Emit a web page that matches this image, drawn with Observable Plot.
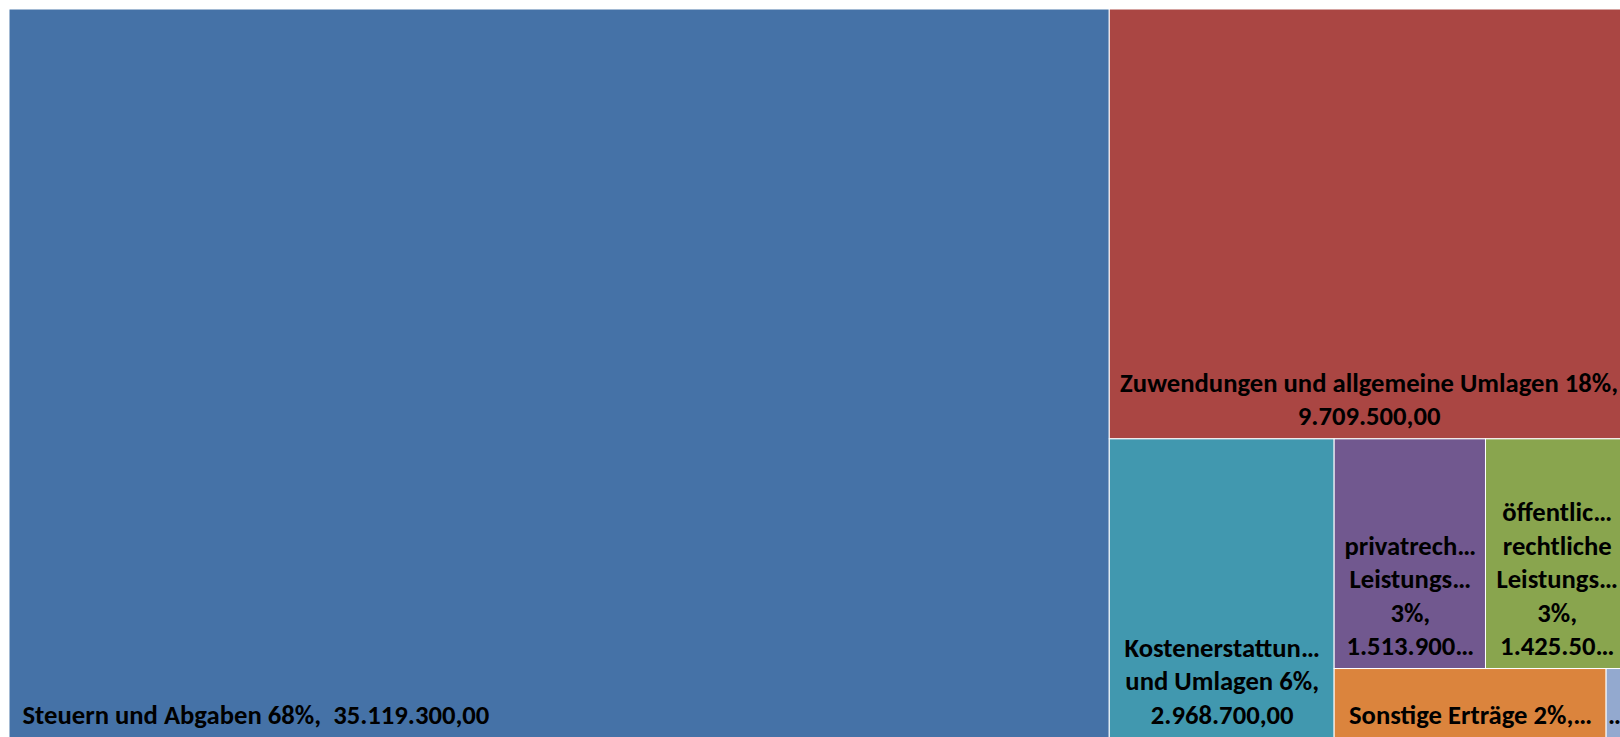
<!DOCTYPE html>
<html><head><meta charset="utf-8">
<script src="https://cdn.jsdelivr.net/npm/d3@7"></script>
<script src="https://cdn.jsdelivr.net/npm/@observablehq/plot@0.6"></script>
<style>html,body{margin:0;padding:0;overflow:hidden;background:#fff} svg{max-width:none !important}</style>
</head><body><div id="chart"></div>
<script>
// ---- data ----
const categories = [
  "Steuern und Abgaben",
  "Zuwendungen und allgemeine Umlagen",
  "Kostenerstattungen und Umlagen",
  "privatrechtliche Leistungsentgelte",
  "öffentlich-rechtliche Leistungsentgelte",
  "Sonstige Erträge",
  "Finanzerträge"
];
const values = [35119300, 9709500, 2968700, 1513900, 1425500, 870000, 70000];
const shares = ["68%", "18%", "6%", "3%", "3%", "2%", "0%"];
const colors = ["#4572A7", "#AA4643", "#4198AF", "#71588F", "#89A54E", "#DB843D", "#93A9CF"];

// ---- layout ----
const W = 1637, H = 751, M = 9;
const iw = W - 2 * M, ih = H - 2 * M;
const FS = 26.67, LH = 33.5, PAD = 18.5, FONT = "Carlito, Calibri, 'Open Sans', sans-serif";
const fmt = d3.formatLocale({decimal: ",", thousands: ".", grouping: [3], currency: ["", ""]}).format(",.2f");

const root = d3.hierarchy({children: categories.map((c, i) => ({name: c, value: values[i], i}))})
  .sum(d => d.value || 0)
  .sort((a, b) => b.value - a.value);
d3.treemap().tile(d3.treemapSquarify.ratio(1)).size([iw, ih]).round(false)(root);
const leaves = root.leaves().map(n => ({...n.data, x0: n.x0, x1: n.x1, y0: n.y0, y1: n.y1}));

// ---- label wrapping ----
const ctx = document.createElement("canvas").getContext("2d");
ctx.font = `bold ${FS}px ${FONT}`;
const tw = s => ctx.measureText(s).width;
function fitWord(w, maxW) {
  if (tw(w) <= maxW) return w;
  let s = w;
  while (s.length && tw(s + "…") > maxW) s = s.slice(0, -1);
  return s + "…";
}
function wrap(text, maxW, maxLines) {
  const tokens = [];
  text.split(" ").forEach((w, k) => {
    const parts = w.split(/(?<=-)/);
    parts.forEach((p, j) => tokens.push({t: p, j: (k === 0 && j === 0) ? "" : (j === 0 ? " " : "")}));
  });
  const lines = [];
  let line = "";
  for (const {t, j} of tokens) {
    if (line === "") {
      if (t === "") continue;
      if (tw(t) > maxW) { lines.push(fitWord(t, maxW)); continue; }
      line = t; continue;
    }
    const cand = line + j + t;
    if (tw(cand.trimEnd()) <= maxW) { line = cand; continue; }
    // a line broken inside a hyphenated word is shown truncated
    lines.push(j === "" && line.endsWith("-") ? fitWord(cand, maxW) : line.trim());
    line = "";
    if (t === "") continue;
    if (tw(t) > maxW) { lines.push(fitWord(t, maxW)); continue; }
    line = t;
  }
  if (line.trim()) lines.push(line.trim());
  if (lines.length > maxLines) {
    const keep = lines.slice(0, Math.max(1, maxLines));
    const last = keep[keep.length - 1].replace(/…$/, "");
    let s = last;
    while (s.length && tw(s + "…") > maxW) s = s.slice(0, -1);
    keep[keep.length - 1] = s + "…";
    return keep;
  }
  return lines;
}

const labels = leaves.map((d, k) => {
  const text = `${d.name} ${shares[d.i]},  ${fmt(values[d.i])}`;
  const w = d.x1 - d.x0, h = d.y1 - d.y0;
  const maxLines = Math.max(1, Math.floor((h - 10) / LH));
  const lines = wrap(text, w - PAD, maxLines);
  return {
    x: k === 0 ? d.x0 : (d.x0 + d.x1) / 2,
    y: d.y1,
    edge: d.y1 >= ih - 0.5,
    anchor: k === 0 ? "start" : "middle",
    text: lines.join("\n")
  };
});

const textOpts = {x: "x", y: "y", text: "text", lineAnchor: "bottom",
  fontSize: FS, fontWeight: "bold", fontFamily: FONT, fill: "#000", lineHeight: LH / FS};

const chart = Plot.plot({
  width: W, height: H,
  marginTop: M, marginBottom: M, marginLeft: M, marginRight: M,
  x: {domain: [0, iw], axis: null},
  y: {domain: [0, ih], reverse: true, axis: null},
  color: {domain: categories, range: colors},
  style: {background: "#fff", maxWidth: "none"},
  marks: [
    Plot.rect(leaves, {x1: "x0", x2: "x1", y1: "y0", y2: "y1", fill: "name", stroke: "#fff", strokeWidth: 1}),
    Plot.text(labels.filter(d => d.anchor === "start"), {...textOpts, textAnchor: "start", dx: 13, dy: -19}),
    Plot.text(labels.filter(d => d.anchor === "middle" && d.edge), {...textOpts, textAnchor: "middle", dy: -19}),
    Plot.text(labels.filter(d => d.anchor === "middle" && !d.edge), {...textOpts, textAnchor: "middle", dy: -14})
  ]
});
chart.style.maxWidth = "none";
document.getElementById("chart").appendChild(chart);
</script>
</body></html>
